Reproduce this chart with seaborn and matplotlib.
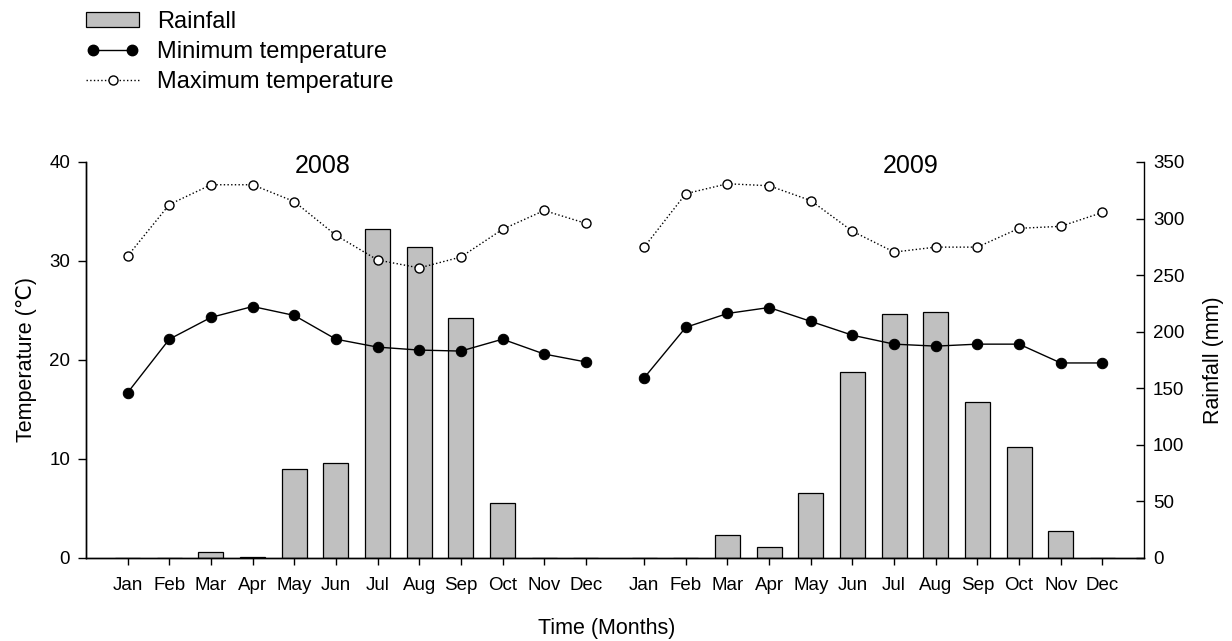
#!/usr/bin/env python3
"""
Purpose: Monthly rainfall with min/max temperature, 2008-2009
"""

import numpy as np
import pandas as pd
import matplotlib
matplotlib.use('Agg')
import matplotlib.pyplot as plt
from matplotlib.lines import Line2D
from matplotlib.patches import Patch
from matplotlib.legend_handler import HandlerLine2D
import seaborn as sns

# --------------------------------------------------
# data
months = ['Jan', 'Feb', 'Mar', 'Apr', 'May', 'Jun',
          'Jul', 'Aug', 'Sep', 'Oct', 'Nov', 'Dec']
years = ['2008', '2009']

rain_2008 = [0, 0, 5, 1, 79, 84, 291, 275, 212, 48.5, 0, 0]
rain_2009 = [0, 0, 20.7, 9.5, 57.3, 164.5, 215.3, 217.7, 137.6, 98, 23.6, 0]

tmin_2008 = [16.7, 22.1, 24.3, 25.4, 24.5, 22.1, 21.3, 21.0, 20.9, 22.1, 20.6, 19.8]
tmin_2009 = [18.2, 23.3, 24.7, 25.3, 23.9, 22.5, 21.6, 21.4, 21.6, 21.6, 19.7, 19.7]

tmax_2008 = [30.5, 35.7, 37.7, 37.7, 36.0, 32.6, 30.1, 29.3, 30.4, 33.2, 35.1, 33.8]
tmax_2009 = [31.4, 36.8, 37.8, 37.6, 36.1, 33.0, 30.9, 31.4, 31.4, 33.3, 33.5, 34.9]

BAR_COLOR = '#c0c0c0'
FONT = ['Liberation Sans', 'DejaVu Sans']


# --------------------------------------------------
def build_frame():
    """Long dataframe, one row per month, with an x position per year"""

    # second year starts a bit further right, leaving a gap
    offsets = {'2008': 0.0, '2009': 12.4}
    parts = []
    for year, rain, tmin, tmax in zip(years,
                                      [rain_2008, rain_2009],
                                      [tmin_2008, tmin_2009],
                                      [tmax_2008, tmax_2009]):
        parts.append(pd.DataFrame({
            'year': year,
            'month': months,
            'pos': np.arange(len(months)) + offsets[year],
            'rain': rain,
            'tmin': tmin,
            'tmax': tmax,
        }))
    return pd.concat(parts, ignore_index=True)


# --------------------------------------------------
def plot_fig(df, figure_name):
    """Bars on the right axis, temperature lines on the left axis"""

    fig = plt.figure(figsize=(12.32, 6.41), dpi=100)
    ax = fig.add_axes([0.0698, 0.1295, 0.8588, 0.6178])
    ax2 = ax.twinx()

    # rainfall bars (right axis)
    sns.barplot(data=df, x='pos', y='rain', native_scale=True, width=0.6,
                color=BAR_COLOR, saturation=1, edgecolor='black',
                linewidth=0.9, errorbar=None, ax=ax2)

    # temperature lines (left axis), one line per year
    sns.lineplot(data=df, x='pos', y='tmin', units='year', estimator=None,
                 color='black', lw=1, marker='o', markersize=7.5,
                 markeredgecolor='black', markerfacecolor='black', ax=ax)
    sns.lineplot(data=df, x='pos', y='tmax', units='year', estimator=None,
                 color='black', lw=1, linestyle=':', marker='o',
                 markersize=6.5, markeredgecolor='black',
                 markerfacecolor='white', markeredgewidth=1, ax=ax)

    # lines above the bars
    ax.set_zorder(ax2.get_zorder() + 1)
    ax.patch.set_visible(False)

    ax.set_xlim(-1, 24.4)
    ax.set_ylim(0, 40)
    ax2.set_ylim(0, 350)
    ax.set_yticks(np.arange(0, 41, 10))
    ax2.set_yticks(np.arange(0, 351, 50))
    ax.set_xticks(df['pos'])
    ax.set_xticklabels(df['month'])

    ax.tick_params(axis='x', direction='out', length=5, width=1,
                   pad=9, labelsize=13.5)
    ax.tick_params(axis='y', direction='out', length=6, width=1,
                   pad=5.5, labelsize=13.5)
    ax2.tick_params(axis='y', direction='in', length=5.5, width=1,
                    pad=6.5, labelsize=13.5)

    ax.set_xlabel('Time (Months)', fontsize=15.5, color='black')
    ax.xaxis.set_label_coords(0.4924, -0.152)
    ax.set_ylabel('Temperature (\u2103)', fontsize=15.5, labelpad=9,
                  color='black')
    ax2.set_ylabel('Rainfall (mm)', fontsize=15.5, labelpad=13,
                   color='black')

    for axis in (ax, ax2):
        axis.spines['top'].set_visible(False)
        for side in ('left', 'right', 'bottom'):
            axis.spines[side].set_color('black')
            axis.spines[side].set_linewidth(1)
    ax.spines['right'].set_visible(False)

    # year labels
    ax.text(4.68, 39.6, '2008', ha='center', va='center', fontsize=18)
    ax.text(18.79, 39.6, '2009', ha='center', va='center', fontsize=18)

    # legend at the top left
    rain_h = Patch(facecolor=BAR_COLOR, edgecolor='black', linewidth=0.9)
    tmin_h = Line2D([], [], color='black', lw=1, marker='o', markersize=7.5)
    tmax_h = Line2D([], [], color='black', lw=1, linestyle=':', marker='o',
                    markersize=6.5, markerfacecolor='white')
    fig.legend([rain_h, tmin_h, tmax_h],
               ['Rainfall', 'Minimum temperature', 'Maximum temperature'],
               loc='upper left', bbox_to_anchor=(86 / 1232, 1 - 11 / 641),
               frameon=False, fontsize=17, handlelength=2.25,
               handleheight=0.6, handletextpad=0.76, labelspacing=0.33,
               borderpad=0, borderaxespad=0, numpoints=2,
               handler_map={tmax_h: HandlerLine2D(numpoints=1)})

    fig.savefig(figure_name, dpi=100)


# --------------------------------------------------
def main():
    """Draw the chart"""

    sns.set_theme(style='ticks')
    plt.rcParams['font.family'] = FONT
    plt.rcParams['text.color'] = 'black'
    plt.rcParams['axes.labelcolor'] = 'black'
    plt.rcParams['xtick.color'] = 'black'
    plt.rcParams['ytick.color'] = 'black'

    df = build_frame()
    plot_fig(df, 'out.png')


# --------------------------------------------------
if __name__ == '__main__':
    main()
